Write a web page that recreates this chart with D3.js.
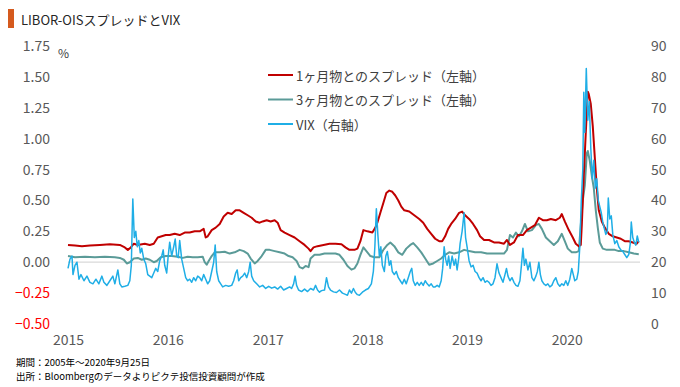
<!DOCTYPE html>
<html>
<head>
<meta charset="utf-8">
<script src="https://cdn.jsdelivr.net/npm/d3@7"></script>
<style>
  body { margin: 0; background: #fff; }
  svg text { font-family: "Noto Sans CJK JP", "Noto Sans", sans-serif; }
</style>
</head>
<body>
<div id="chart"></div>
<script>
//-- Data (t = decimal year, value)
var title = 'LIBOR-OISスプレッドとVIX';
var series_names = ['1ヶ月物とのスプレッド（左軸）', '3ヶ月物とのスプレッド（左軸）', 'VIX（右軸）'];
var left_ticks = [-0.50, -0.25, 0.00, 0.25, 0.50, 0.75, 1.00, 1.25, 1.50, 1.75];
var right_ticks = [0, 10, 20, 30, 40, 50, 60, 70, 80, 90];
var year_ticks = [2015, 2016, 2017, 2018, 2019, 2020];
var notes = ['期間：2005年～2020年9月25日', '出所：Bloombergのデータよりピクテ投信投資顧問が作成'];

var spread_1m = [
  [2015.00,0.14],[2015.07,0.135],[2015.14,0.13],[2015.22,0.135],[2015.32,0.14],[2015.42,0.145],[2015.52,0.14],
  [2015.57,0.12],[2015.60,0.10],[2015.63,0.12],[2015.66,0.15],[2015.70,0.14],[2015.77,0.15],[2015.82,0.14],
  [2015.86,0.15],[2015.90,0.20],[2015.94,0.21],[2015.98,0.22],[2016.02,0.22],[2016.07,0.23],[2016.12,0.22],
  [2016.17,0.24],[2016.22,0.24],[2016.27,0.25],[2016.32,0.25],[2016.36,0.27],[2016.38,0.20],[2016.40,0.21],
  [2016.44,0.26],[2016.48,0.28],[2016.52,0.31],[2016.56,0.37],[2016.60,0.40],[2016.64,0.39],[2016.68,0.42],
  [2016.72,0.42],[2016.76,0.40],[2016.80,0.38],[2016.84,0.36],[2016.88,0.33],[2016.92,0.32],[2016.95,0.33],
  [2016.99,0.34],[2017.03,0.33],[2017.07,0.34],[2017.10,0.32],[2017.13,0.26],[2017.17,0.24],[2017.22,0.22],
  [2017.27,0.20],[2017.32,0.17],[2017.37,0.14],[2017.41,0.11],[2017.43,0.09],[2017.46,0.12],[2017.50,0.13],
  [2017.56,0.14],[2017.62,0.15],[2017.68,0.15],[2017.74,0.145],[2017.78,0.12],[2017.82,0.10],[2017.87,0.10],
  [2017.90,0.11],[2017.93,0.17],[2017.96,0.26],[2018.00,0.25],[2018.05,0.24],[2018.08,0.28],[2018.10,0.32],
  [2018.13,0.40],[2018.16,0.48],[2018.19,0.56],[2018.22,0.58],[2018.25,0.57],[2018.28,0.54],[2018.31,0.50],
  [2018.34,0.45],[2018.37,0.42],[2018.42,0.41],[2018.47,0.38],[2018.52,0.35],[2018.56,0.32],[2018.60,0.27],
  [2018.64,0.23],[2018.68,0.19],[2018.72,0.17],[2018.75,0.17],[2018.78,0.21],[2018.81,0.27],[2018.84,0.31],
  [2018.88,0.35],[2018.92,0.40],[2018.95,0.41],[2018.98,0.38],[2019.02,0.35],[2019.06,0.31],[2019.10,0.26],
  [2019.13,0.21],[2019.17,0.18],[2019.22,0.18],[2019.27,0.16],[2019.32,0.16],[2019.37,0.15],[2019.40,0.18],
  [2019.43,0.14],[2019.47,0.16],[2019.51,0.22],[2019.56,0.22],[2019.60,0.26],[2019.64,0.28],[2019.68,0.30],
  [2019.72,0.36],[2019.76,0.34],[2019.80,0.34],[2019.84,0.35],[2019.89,0.34],[2019.93,0.36],[2019.95,0.39],
  [2019.98,0.33],[2020.02,0.26],[2020.06,0.20],[2020.09,0.15],[2020.12,0.13],[2020.14,0.14],[2020.15,0.30],
  [2020.17,0.70],[2020.19,1.05],[2020.21,1.38],[2020.22,1.36],[2020.24,1.28],[2020.26,1.10],[2020.28,0.85],
  [2020.30,0.60],[2020.32,0.42],[2020.35,0.33],[2020.38,0.28],[2020.42,0.23],[2020.46,0.21],[2020.50,0.20],
  [2020.54,0.19],[2020.58,0.17],[2020.62,0.17],[2020.66,0.16],[2020.70,0.15],[2020.72,0.17]
];

var spread_3m = [
  [2015.00,0.05],[2015.07,0.04],[2015.17,0.045],[2015.27,0.04],[2015.37,0.045],[2015.47,0.04],[2015.52,0.035],
  [2015.56,0.02],[2015.59,-0.01],[2015.62,0.00],[2015.66,0.03],[2015.70,0.035],[2015.74,0.02],[2015.78,0.03],
  [2015.82,0.02],[2015.86,0.00],[2015.89,0.01],[2015.93,0.04],[2015.98,0.05],[2016.04,0.05],[2016.10,0.045],
  [2016.15,0.035],[2016.20,0.045],[2016.25,0.04],[2016.30,0.04],[2016.35,0.045],[2016.37,0.00],[2016.39,-0.02],
  [2016.41,0.01],[2016.44,0.05],[2016.47,0.08],[2016.52,0.08],[2016.57,0.085],[2016.62,0.07],[2016.67,0.08],
  [2016.72,0.10],[2016.76,0.09],[2016.80,0.07],[2016.83,0.03],[2016.87,-0.01],[2016.90,0.01],[2016.94,0.05],
  [2016.98,0.10],[2017.02,0.10],[2017.07,0.09],[2017.12,0.08],[2017.17,0.07],[2017.21,0.05],[2017.25,0.04],
  [2017.29,0.01],[2017.32,-0.04],[2017.35,-0.05],[2017.38,-0.03],[2017.41,-0.04],[2017.43,0.03],[2017.47,0.06],
  [2017.52,0.06],[2017.57,0.07],[2017.62,0.07],[2017.68,0.07],[2017.72,0.06],[2017.76,0.02],[2017.80,-0.03],
  [2017.84,-0.06],[2017.87,-0.05],[2017.90,-0.01],[2017.93,0.06],[2017.96,0.12],[2017.99,0.09],[2018.03,0.05],
  [2018.07,0.04],[2018.12,0.04],[2018.16,0.10],[2018.20,0.14],[2018.23,0.16],[2018.27,0.13],[2018.31,0.08],
  [2018.35,0.06],[2018.39,0.11],[2018.43,0.14],[2018.46,0.155],[2018.50,0.12],[2018.54,0.08],[2018.58,0.03],
  [2018.62,-0.02],[2018.66,-0.01],[2018.70,0.01],[2018.74,0.03],[2018.78,0.06],[2018.82,0.08],[2018.87,0.07],
  [2018.92,0.08],[2018.97,0.10],[2019.02,0.09],[2019.08,0.08],[2019.14,0.08],[2019.20,0.07],[2019.26,0.07],
  [2019.32,0.07],[2019.37,0.07],[2019.40,0.10],[2019.43,0.22],[2019.46,0.20],[2019.49,0.24],[2019.52,0.21],
  [2019.55,0.25],[2019.58,0.31],[2019.61,0.25],[2019.65,0.26],[2019.69,0.30],[2019.72,0.31],[2019.75,0.27],
  [2019.79,0.20],[2019.83,0.17],[2019.87,0.14],[2019.91,0.17],[2019.95,0.23],[2019.98,0.17],[2020.01,0.11],
  [2020.05,0.08],[2020.09,0.08],[2020.12,0.09],[2020.14,0.30],[2020.16,0.50],[2020.18,0.62],[2020.20,0.88],
  [2020.21,0.90],[2020.23,0.82],[2020.25,0.70],[2020.27,0.60],[2020.29,0.42],[2020.31,0.28],[2020.33,0.16],
  [2020.36,0.11],[2020.40,0.10],[2020.44,0.10],[2020.48,0.10],[2020.52,0.09],[2020.57,0.09],[2020.62,0.08],
  [2020.67,0.07],[2020.72,0.065]
];

var vix = [
  [2015.000,18],[2015.020,21],[2015.040,22],[2015.050,16],[2015.070,19],[2015.090,20],[2015.110,14.5],
  [2015.130,16],[2015.160,14],[2015.190,15.5],[2015.220,13.5],[2015.250,13],[2015.280,14.5],[2015.310,13],
  [2015.340,15.5],[2015.360,13.5],[2015.390,12.5],[2015.420,14],[2015.450,15.5],[2015.470,13],[2015.500,17.5],
  [2015.520,13],[2015.540,12],[2015.570,12.2],[2015.600,12.5],[2015.620,14],[2015.635,19],[2015.650,40.5],
  [2015.665,28],[2015.680,30],[2015.695,25],[2015.710,27],[2015.725,23],[2015.740,24.5],[2015.760,21],
  [2015.780,19.5],[2015.800,16],[2015.820,15.5],[2015.840,15],[2015.860,16.5],[2015.880,18],[2015.900,17],
  [2015.920,20.5],[2015.940,22],[2015.955,24],[2015.970,19],[2015.990,16.5],[2016.005,22],[2016.020,26.5],
  [2016.040,22],[2016.060,25],[2016.075,27.5],[2016.090,22],[2016.105,21.5],[2016.120,27],[2016.140,21],
  [2016.160,18],[2016.180,15],[2016.200,14],[2016.220,14.5],[2016.240,13.5],[2016.260,15],[2016.280,14],
  [2016.300,15.5],[2016.320,15],[2016.340,14],[2016.360,16],[2016.380,14.5],[2016.400,13],[2016.420,14],
  [2016.440,17],[2016.460,20],[2016.475,25.6],[2016.490,17],[2016.510,14],[2016.530,13],[2016.550,12],
  [2016.580,12.5],[2016.610,12.2],[2016.640,12.5],[2016.660,14],[2016.680,16.5],[2016.695,17.5],[2016.710,14],
  [2016.730,15],[2016.750,15.5],[2016.770,16.5],[2016.790,15],[2016.810,17],[2016.825,20],[2016.840,15.5],
  [2016.860,14],[2016.890,13],[2016.920,12],[2016.950,12.5],[2016.980,11.5],[2017.010,12.2],[2017.040,11.6],
  [2017.070,12],[2017.100,11.3],[2017.130,12.2],[2017.160,11],[2017.190,11.5],[2017.220,12],[2017.240,11.5],
  [2017.260,13],[2017.275,15.5],[2017.290,12.5],[2017.310,11],[2017.340,10.5],[2017.370,11.3],[2017.400,10.5],
  [2017.430,11.5],[2017.460,11],[2017.480,12.5],[2017.500,11],[2017.520,10.3],[2017.540,10.8],[2017.570,11],
  [2017.590,15],[2017.610,12],[2017.630,11],[2017.660,10.4],[2017.690,10.2],[2017.720,11],[2017.750,10],
  [2017.780,9.6],[2017.800,9.3],[2017.820,11],[2017.840,10],[2017.860,11.5],[2017.880,10.2],[2017.900,9.5],
  [2017.920,9.3],[2017.950,10.3],[2017.980,11],[2018.010,11.5],[2018.040,13],[2018.060,17],[2018.075,25],
  [2018.090,37.3],[2018.105,29],[2018.120,22],[2018.135,25],[2018.150,19],[2018.170,17],[2018.185,22],
  [2018.200,23.5],[2018.220,19],[2018.235,20.5],[2018.250,17],[2018.270,16],[2018.290,17],[2018.310,15],
  [2018.330,14],[2018.350,13],[2018.370,14.5],[2018.390,13],[2018.410,15],[2018.430,17],[2018.445,18],
  [2018.460,14],[2018.480,12.5],[2018.500,13.5],[2018.520,12.5],[2018.540,13.5],[2018.560,12.5],[2018.580,14],
  [2018.600,13],[2018.620,12.3],[2018.640,13],[2018.660,12],[2018.680,12],[2018.700,12.5],[2018.720,12],
  [2018.740,14],[2018.755,18],[2018.770,25],[2018.785,21],[2018.800,19],[2018.815,22],[2018.830,18],
  [2018.850,22],[2018.870,19],[2018.885,21],[2018.900,17.5],[2018.915,21],[2018.930,26],[2018.950,30],
  [2018.970,36],[2018.985,28],[2019.000,25],[2019.020,20.5],[2019.040,18.5],[2019.060,19],[2019.080,17],
  [2019.100,16.5],[2019.120,15],[2019.140,14],[2019.160,15],[2019.180,13.5],[2019.200,14],[2019.220,13.5],
  [2019.240,12.5],[2019.260,13],[2019.280,15],[2019.300,19.5],[2019.320,16.5],[2019.340,15],[2019.360,13.5],
  [2019.380,16],[2019.395,18],[2019.410,15.5],[2019.430,14],[2019.450,15],[2019.470,13.5],[2019.490,12.5],
  [2019.510,12.2],[2019.530,14],[2019.545,19],[2019.560,24.5],[2019.575,19],[2019.590,21],[2019.610,17.5],
  [2019.630,20],[2019.650,15],[2019.670,14],[2019.690,15.5],[2019.705,17],[2019.720,20],[2019.735,16],
  [2019.750,14],[2019.770,13],[2019.790,12.5],[2019.810,13],[2019.830,12],[2019.850,12.5],[2019.870,14],
  [2019.890,15],[2019.910,13],[2019.930,12.2],[2019.950,13],[2019.970,12.5],[2019.990,14],[2020.010,12.5],
  [2020.030,14.5],[2020.050,18],[2020.065,16],[2020.080,14],[2020.100,14.5],[2020.115,17],[2020.130,25],
  [2020.145,40],[2020.160,50],[2020.170,75],[2020.180,62],[2020.195,82.7],[2020.210,66],[2020.225,72],
  [2020.240,57],[2020.255,47],[2020.270,53],[2020.285,44],[2020.300,47],[2020.315,40],[2020.330,38],
  [2020.345,36],[2020.360,33],[2020.375,31],[2020.390,29],[2020.405,30],[2020.415,40.8],[2020.430,34],
  [2020.445,35],[2020.460,29],[2020.480,26],[2020.500,27],[2020.520,25],[2020.540,24],[2020.560,23.5],
  [2020.580,22.5],[2020.600,21.5],[2020.620,22.5],[2020.635,26],[2020.645,33],[2020.660,28],[2020.675,26.5],
  [2020.690,25.5],[2020.705,28.5],[2020.720,26.4]
];

var colors = ['#C00000', '#5B9B98', '#1FAEE6'];

function to_date(t) {
  var y = Math.floor(t);
  var start = new Date(y, 0, 1), end = new Date(y + 1, 0, 1);
  return new Date(+start + (t - y) * (end - start));
}

var tot_width = 680, tot_height = 387;
var margin = {left: 68, right: 40, top: 46, bottom: 63};
var width = tot_width - margin.left - margin.right;
var height = tot_height - margin.top - margin.bottom;

var svg = d3.select('#chart')
  .append('svg')
    .attr('width', tot_width)
    .attr('height', tot_height)
  .append('g')
    .attr('transform', 'translate(' + margin.left + ',' + margin.top + ')');

//-- Scales
var x = d3.scaleTime()
  .domain([new Date(2015, 0, 1), new Date(2020, 8, 25)])
  .range([0, width]);

var y_left = d3.scaleLinear()
  .domain([-0.5, 1.75])
  .range([height, 0]);

var y_right = d3.scaleLinear()
  .domain([0, 90])
  .range([height, 0]);

//-- Title
svg.append('rect')
  .attr('x', 8 - margin.left)
  .attr('y', 9 - margin.top)
  .attr('width', 6)
  .attr('height', 19)
  .attr('fill', '#D55A1E');

svg.append('text')
  .attr('x', 21 - margin.left)
  .attr('y', 19 - margin.top)
  .attr('dominant-baseline', 'central')
  .style('font-size', '13px')
  .style('fill', '#262626')
  .text(title);

//-- Left axis
var y_axis_left = d3.axisLeft(y_left)
  .tickValues(left_ticks)
  .tickFormat(d3.format('.2f'))
  .tickSize(0)
  .tickPadding(18);

svg.append('g')
  .attr('class', 'yaxis')
  .call(y_axis_left)
  .call(function (g) {g.select('.domain').remove();})
  .selectAll('text')
    .style('font-size', '14px')
    .style('fill', function (d) {return d < 0 ? '#FF0000' : '#595959';})
    .text(function (d) {return d < 0 ? '\u2212' + d3.format('.2f')(-d) : d3.format('.2f')(d);});

svg.append('text')
  .attr('x', -10)
  .attr('y', y_left(1.75) + 6)
  .attr('dominant-baseline', 'central')
  .style('font-size', '12px')
  .style('fill', '#404040')
  .text('%');

//-- Right axis
var y_axis_right = d3.axisRight(y_right)
  .tickValues(right_ticks)
  .tickSize(0)
  .tickPadding(11);

svg.append('g')
  .attr('class', 'yaxis')
  .attr('transform', 'translate(' + width + ',0)')
  .call(y_axis_right)
  .call(function (g) {g.select('.domain').remove();})
  .selectAll('text')
    .style('font-size', '14px')
    .style('fill', '#595959');

//-- X axis
var x_axis = d3.axisBottom(x)
  .tickValues(year_ticks.map(function (d) {return new Date(d, 0, 1);}))
  .tickFormat(d3.timeFormat('%Y'))
  .tickSize(0)
  .tickPadding(11);

svg.append('g')
  .attr('class', 'xaxis')
  .attr('transform', 'translate(0,' + height + ')')
  .call(x_axis)
  .call(function (g) {g.select('.domain').remove();})
  .selectAll('text')
    .style('font-size', '14px')
    .style('fill', '#595959');

//-- Zero line
svg.append('line')
  .attr('x1', 0)
  .attr('x2', width)
  .attr('y1', y_left(0))
  .attr('y2', y_left(0))
  .attr('stroke', '#D9D9D9')
  .attr('stroke-width', 1.2);

//-- Lines
var line_left = d3.line()
  .x(function (d) {return x(to_date(d[0]));})
  .y(function (d) {return y_left(d[1]);});

var line_right = d3.line()
  .x(function (d) {return x(to_date(d[0]));})
  .y(function (d) {return y_right(d[1]);});

svg.append('path')
  .datum(spread_3m)
  .attr('d', line_left)
  .attr('fill', 'none')
  .attr('stroke', colors[1])
  .attr('stroke-width', 2)
  .attr('stroke-linejoin', 'round');

svg.append('path')
  .datum(spread_1m)
  .attr('d', line_left)
  .attr('fill', 'none')
  .attr('stroke', colors[0])
  .attr('stroke-width', 2)
  .attr('stroke-linejoin', 'round');

svg.append('path')
  .datum(vix)
  .attr('d', line_right)
  .attr('fill', 'none')
  .attr('stroke', colors[2])
  .attr('stroke-width', 1.5)
  .attr('stroke-linejoin', 'round');

//-- Legend
var legend_pos = {x: 268 - margin.left, y: 75 - margin.top, dy: 24.5, len: 25};

var legend = svg.selectAll('.legend')
  .data(series_names)
  .enter()
  .append('g')
    .attr('class', 'legend')
    .attr('transform', function (d, i) {return 'translate(' + legend_pos.x + ',' + (legend_pos.y + i * legend_pos.dy) + ')';});

legend.append('line')
  .attr('x1', 0)
  .attr('x2', legend_pos.len)
  .attr('stroke', function (d, i) {return colors[i];})
  .attr('stroke-width', 2);

legend.append('text')
  .attr('x', legend_pos.len + 3)
  .attr('dominant-baseline', 'central')
  .style('font-size', '13px')
  .style('fill', '#404040')
  .text(function (d) {return d;});

//-- Notes
svg.selectAll('.note')
  .data(notes)
  .enter()
  .append('text')
    .attr('class', 'note')
    .attr('x', 16 - margin.left)
    .attr('y', function (d, i) {return 362 - margin.top + i * 14;})
    .attr('dominant-baseline', 'central')
    .style('font-size', '9.5px')
    .style('fill', '#000')
    .text(function (d) {return d;});
</script>
</body>
</html>
